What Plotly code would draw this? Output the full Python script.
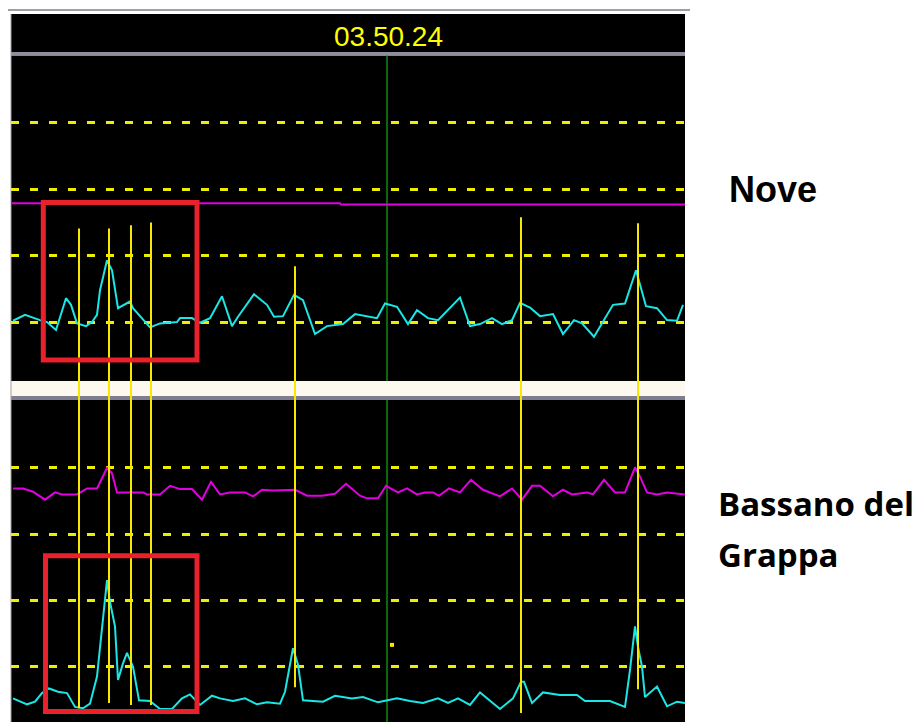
import plotly.graph_objects as go

# the page body adds an 8px margin, so the figure is 8px smaller and all
# reference-pixel positions are shifted by that offset
OFF = 8
W, H = 924 - OFF, 722 - OFF

# ---------------- data ----------------
title_text = "03.50.24"
station_top = "Nove"
station_bottom_l1 = "Bassano del"
station_bottom_l2 = "Grappa"

# Nove (top panel) - cyan seismic-like trace
nove_x = [2, 14, 29, 36, 45, 55, 60, 66, 75, 81, 86, 89, 96, 101, 107, 119, 122, 139, 149, 166,
          169, 181, 189, 199, 211, 221, 227, 243, 256, 263, 272, 283, 292, 299, 304, 316, 332, 344,
          356, 366, 374, 386, 397, 406, 417, 427, 449, 459, 469, 481, 491, 501, 509, 519, 529, 542,
          552, 563, 571, 583, 602, 614, 625, 629, 635, 646, 656, 666, 672]
nove_cyan = [0.02, 0.11, 0.03, 0.00, -0.12, 0.36, 0.26, -0.02, -0.06, 0.00, 0.11, 0.48, 0.93, 0.78,
             0.21, 0.31, 0.21, -0.08, -0.02, 0.00, 0.06, 0.06, -0.01, 0.06, 0.39, -0.06, 0.08, 0.42,
             0.26, 0.08, 0.09, 0.41, 0.33, 0.03, -0.18, -0.06, -0.03, 0.12, 0.09, 0.06, 0.28, 0.23,
             -0.03, 0.18, 0.06, 0.03, 0.37, -0.06, -0.03, 0.06, -0.03, 0.03, 0.29, 0.22, 0.09, 0.12,
             -0.18, 0.03, -0.02, -0.22, 0.26, 0.28, 0.78, 0.56, 0.24, 0.21, 0.03, 0.02, 0.26]
nove_mag_x = [1, 329, 330, 674]
nove_mag = [1.79, 1.79, 1.77, 1.77]

# Bassano del Grappa (bottom panel)
bass_x = [2, 16, 24, 31, 38, 47, 56, 64, 72, 79, 86, 91, 94, 96, 99, 104, 107, 112, 116, 122, 128,
          139, 149, 161, 171, 179, 189, 201, 209, 222, 234, 246, 256, 269, 274, 282, 287, 292, 312,
          324, 341, 352, 367, 386, 399, 412, 427, 437, 447, 459, 469, 489, 502, 510, 513, 521, 532,
          549, 566, 574, 599, 614, 619, 624, 627, 631, 634, 646, 656, 666, 674]
bass_cyan = [-0.49, -0.58, -0.54, -0.41, -0.34, -0.39, -0.41, -0.62, -0.64, -0.57, -0.16, 0.55,
             1.03, 1.30, 0.97, 0.60, -0.21, 0.04, 0.20, -0.01, -0.52, -0.53, -0.65, -0.65, -0.49,
             -0.43, -0.59, -0.45, -0.49, -0.53, -0.49, -0.58, -0.55, -0.57, -0.39, 0.27, 0.02, -0.52,
             -0.54, -0.45, -0.49, -0.47, -0.55, -0.49, -0.53, -0.56, -0.49, -0.56, -0.49, -0.59,
             -0.40, -0.65, -0.49, -0.24, -0.24, -0.56, -0.40, -0.44, -0.44, -0.53, -0.53, -0.62,
             -0.06, 0.60, 0.29, -0.01, -0.47, -0.31, -0.61, -0.54, -0.56]
bass_mag_x = [2, 12, 22, 34, 44, 51, 66, 76, 86, 96, 101, 106, 119, 132, 136, 149, 159, 169, 181,
              191, 200, 209, 219, 234, 242, 251, 262, 284, 296, 311, 324, 335, 349, 356, 367, 375,
              387, 396, 406, 414, 422, 428, 438, 449, 460, 472, 489, 501, 511, 521, 529, 542, 552,
              561, 576, 582, 593, 604, 614, 624, 629, 636, 646, 656, 674]
bass_mag = [2.69, 2.69, 2.64, 2.52, 2.63, 2.60, 2.60, 2.69, 2.69, 3.00, 2.92, 2.63, 2.63, 2.63,
            2.60, 2.60, 2.73, 2.68, 2.68, 2.52, 2.79, 2.60, 2.63, 2.63, 2.57, 2.67, 2.66, 2.67,
            2.58, 2.58, 2.61, 2.76, 2.58, 2.54, 2.54, 2.73, 2.63, 2.69, 2.60, 2.63, 2.63, 2.58,
            2.69, 2.63, 2.82, 2.67, 2.57, 2.69, 2.52, 2.73, 2.73, 2.57, 2.67, 2.60, 2.63, 2.60,
            2.82, 2.63, 2.63, 3.01, 2.87, 2.63, 2.60, 2.63, 2.60]

# picked event markers (yellow verticals)
event_x = [68, 98, 120, 140, 284, 510, 627]
event_top = [1.41, 1.41, 1.46, 1.50, 0.84, 1.58, 1.49]       # top-panel units
event_bottom = [-0.64, -0.56, -0.59, -0.59, -0.32, -0.71, -0.35]  # bottom-panel units

cursor_x = 376
stray_x, stray_y = [381], [0.32]

# highlight boxes (x0, x1, y0, y1)
box_top = [32.3, 186, -0.57, 1.80]
box_bottom = [34.5, 186, -0.69, 1.67]

grid_vals = [0, 1, 2, 3]

# ---------------- styling ----------------
CYAN = "#1AE6E6"
MAGENTA = "#E000E0"
YELLOW = "#F6E800"
GRID_YELLOW = "#EEEE00"
GREEN = "#108A10"
RED = "#E8212B"


def py(p):
    return 1 - (p - OFF) / H


def pxx(p):
    return (p - OFF) / W


fig = go.Figure()

fig.add_trace(go.Scatter(x=nove_mag_x, y=nove_mag, mode="lines",
                         line=dict(color=MAGENTA, width=2), xaxis="x", yaxis="y"))
fig.add_trace(go.Scatter(x=nove_x, y=nove_cyan, mode="lines",
                         line=dict(color=CYAN, width=2), xaxis="x", yaxis="y"))
fig.add_trace(go.Scatter(x=bass_mag_x, y=bass_mag, mode="lines",
                         line=dict(color=MAGENTA, width=2), xaxis="x2", yaxis="y2"))
fig.add_trace(go.Scatter(x=bass_x, y=bass_cyan, mode="lines",
                         line=dict(color=CYAN, width=2), xaxis="x2", yaxis="y2"))

# event verticals: top-panel part (runs off the bottom edge) and bottom-panel part
vx_t, vy_t, vx_b, vy_b = [], [], [], []
for ex, et, eb in zip(event_x, event_top, event_bottom):
    vx_t += [ex, ex, None]
    vy_t += [et, -5, None]
    vx_b += [ex, ex, None]
    vy_b += [10, eb, None]
fig.add_trace(go.Scatter(x=vx_t, y=vy_t, mode="lines",
                         line=dict(color=YELLOW, width=2), xaxis="x", yaxis="y"))
fig.add_trace(go.Scatter(x=vx_b, y=vy_b, mode="lines",
                         line=dict(color=YELLOW, width=2), xaxis="x2", yaxis="y2"))
fig.add_trace(go.Scatter(x=stray_x, y=stray_y, mode="markers",
                         marker=dict(symbol="square", size=4, color=YELLOW),
                         xaxis="x2", yaxis="y2"))

shapes = []
# header: thin gray rule, black title bar, gray separator
shapes.append(dict(type="line", xref="paper", yref="paper", x0=0, x1=pxx(690),
                   y0=py(10), y1=py(10), line=dict(color="#9A9EA6", width=2), layer="below"))
shapes.append(dict(type="rect", xref="paper", yref="paper", x0=pxx(11), x1=pxx(685),
                   y0=py(52), y1=py(14), fillcolor="black", line=dict(width=0), layer="below"))
shapes.append(dict(type="rect", xref="paper", yref="paper", x0=pxx(11), x1=pxx(685),
                   y0=py(55.5), y1=py(52), fillcolor="#8E8E9C", line=dict(width=0), layer="below"))
# gap between panels
shapes.append(dict(type="rect", xref="paper", yref="paper", x0=pxx(11), x1=pxx(685),
                   y0=py(396), y1=py(381), fillcolor="#FDF9EE", line=dict(width=0), layer="below"))
shapes.append(dict(type="rect", xref="paper", yref="paper", x0=pxx(11), x1=pxx(685),
                   y0=py(400), y1=py(396), fillcolor="#7E7E90", line=dict(width=0), layer="below"))
shapes.append(dict(type="line", xref="paper", yref="paper", x0=pxx(11), x1=pxx(11),
                   y0=0, y1=py(14), line=dict(color="#A0A0A0", width=1), layer="below"))
# event verticals crossing the gap
for ex in event_x:
    shapes.append(dict(type="line", xref="x", yref="paper", x0=ex, x1=ex,
                       y0=py(401), y1=py(380), line=dict(color=YELLOW, width=2), layer="above"))
# green time cursor in both panels
for yr in ["y domain", "y2 domain"]:
    shapes.append(dict(type="line", xref="x", yref=yr, x0=cursor_x, x1=cursor_x, y0=0, y1=1,
                       line=dict(color=GREEN, width=1.5), layer="below"))
# red highlight boxes
shapes.append(dict(type="rect", xref="x", yref="y", x0=box_top[0], x1=box_top[1],
                   y0=box_top[2], y1=box_top[3], line=dict(color=RED, width=5), layer="above"))
shapes.append(dict(type="rect", xref="x2", yref="y2", x0=box_bottom[0], x1=box_bottom[1],
                   y0=box_bottom[2], y1=box_bottom[3], line=dict(color=RED, width=5), layer="above"))

annotations = [
    dict(text=title_text, xref="paper", yref="paper", x=pxx(388), y=py(37),
         xanchor="center", yanchor="middle", showarrow=False,
         font=dict(family="Liberation Sans, Arial", size=28, color="#FFFF00")),
    dict(text="<b>" + station_top + "</b>", xref="paper", yref="paper", x=pxx(727), y=py(189),
         xanchor="left", yanchor="middle", showarrow=False,
         font=dict(family="Liberation Sans, Arial", size=36, color="black")),
    dict(text="<b>" + station_bottom_l1 + "</b>", xref="paper", yref="paper", x=pxx(716), y=py(503),
         xanchor="left", yanchor="middle", showarrow=False,
         font=dict(family="Open Sans", size=33, color="black")),
    dict(text="<b>" + station_bottom_l2 + "</b>", xref="paper", yref="paper", x=pxx(716), y=py(554),
         xanchor="left", yanchor="middle", showarrow=False,
         font=dict(family="Open Sans", size=33, color="black")),
]

xdom = [pxx(11), pxx(685)]
common_x = dict(domain=xdom, range=[0, 674], showgrid=False, zeroline=False, showline=False,
                showticklabels=False, ticks="", fixedrange=True)
common_y = dict(tickvals=grid_vals, showgrid=True, gridcolor=GRID_YELLOW, griddash="8px,11px",
                gridwidth=2.5, zeroline=False, showline=False, showticklabels=False, ticks="",
                fixedrange=True)

fig.update_layout(
    width=W, height=H, margin=dict(l=0, r=0, t=0, b=0),
    paper_bgcolor="white", plot_bgcolor="black", showlegend=False, hovermode=False,
    xaxis=dict(anchor="y", **common_x),
    xaxis2=dict(anchor="y2", matches="x", **common_x),
    yaxis=dict(anchor="x", domain=[py(381), py(55.5)], range=[-0.887, 4.015], **common_y),
    yaxis2=dict(anchor="x2", domain=[0, py(400)], range=[-0.848, 4.03], **common_y),
    shapes=shapes, annotations=annotations,
)

fig.write_html("out.html")
